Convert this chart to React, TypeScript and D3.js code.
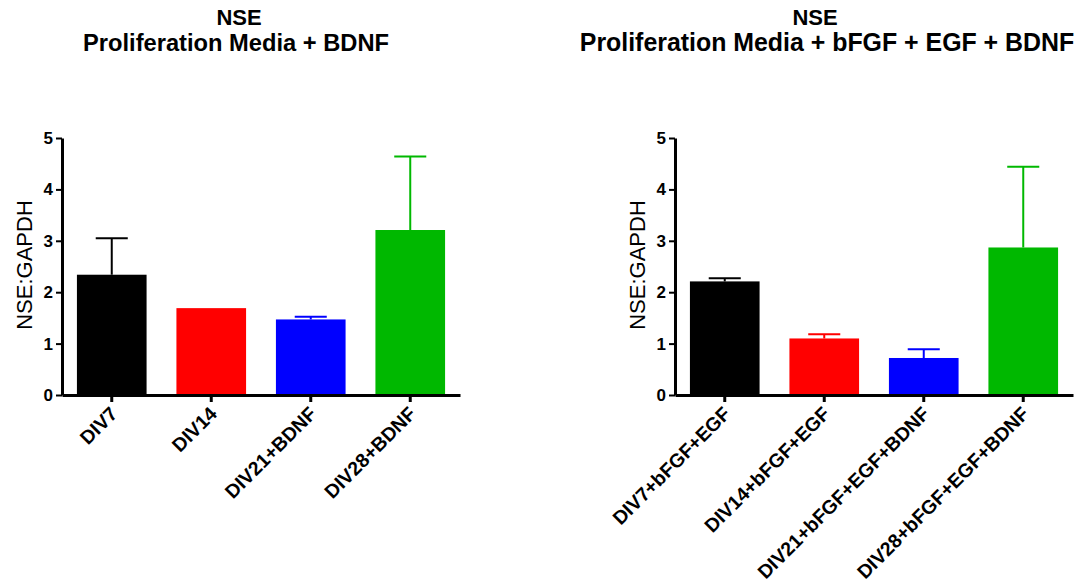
import React, { useRef, useEffect } from 'react';
import * as d3 from 'd3';

const leftCategories = ['DIV7', 'DIV14', 'DIV21+BDNF', 'DIV28+BDNF'];
const leftMeans = [2.34, 1.69, 1.47, 3.21];
const leftErrors = [0.71, 0.0, 0.05, 1.43];

const rightCategories = ['DIV7+bFGF+EGF', 'DIV14+bFGF+EGF', 'DIV21+bFGF+EGF+BDNF', 'DIV28+bFGF+EGF+BDNF'];
const rightMeans = [2.21, 1.1, 0.72, 2.87];
const rightErrors = [0.06, 0.08, 0.17, 1.57];

const barColors = ['#000000', '#ff0000', '#0000ff', '#00b800'];
const yTicks = [0, 1, 2, 3, 4, 5];

const panels = [
  { title: ['NSE', 'Proliferation Media + BDNF'], cats: leftCategories, means: leftMeans, errs: leftErrors, x0: 62, titleX: [239, 236], titleSize: 23.7 },
  { title: ['NSE', 'Proliferation Media + bFGF + EGF + BDNF'], cats: rightCategories, means: rightMeans, errs: rightErrors, x0: 675, titleX: [815, 827], titleSize: 24.9 },
];

const App: React.FC = () => {
  const chartRef = useRef<SVGSVGElement>(null);

  useEffect(() => {
    const svg = d3.select(chartRef.current);
    svg.selectAll('*').remove();

    const font = 'Arial, "Liberation Sans", sans-serif';

    panels.forEach(p => {
      const g = svg.append('g');

      const x = d3.scaleBand<string>()
        .domain(p.cats)
        .range([p.x0, p.x0 + 398])
        .paddingInner(0.3)
        .paddingOuter(0.15);

      const y = d3.scaleLinear()
        .domain([0, 5])
        .range([395, 138]);

      // title
      g.append('text')
        .attr('x', p.titleX[0]).attr('y', 25)
        .attr('text-anchor', 'middle')
        .style('font', `bold 22px ${font}`)
        .text(p.title[0]);
      g.append('text')
        .attr('x', p.titleX[1]).attr('y', 51)
        .attr('text-anchor', 'middle')
        .style('font', `bold ${p.titleSize}px ${font}`)
        .text(p.title[1]);

      // bars
      g.selectAll('.bar')
        .data(p.means)
        .enter().append('rect')
        .attr('x', (d, i) => x(p.cats[i])!)
        .attr('y', d => y(d))
        .attr('width', x.bandwidth())
        .attr('height', d => y(0) - y(d))
        .attr('fill', (d, i) => barColors[i]);

      // error bars (upper only)
      const capHalf = x.bandwidth() * 0.23;
      p.means.forEach((m, i) => {
        if (p.errs[i] <= 0) return;
        const cx = x(p.cats[i])! + x.bandwidth() / 2;
        g.append('line')
          .attr('x1', cx).attr('x2', cx)
          .attr('y1', y(m)).attr('y2', y(m + p.errs[i]))
          .attr('stroke', barColors[i]).attr('stroke-width', 2);
        g.append('line')
          .attr('x1', cx - capHalf).attr('x2', cx + capHalf)
          .attr('y1', y(m + p.errs[i])).attr('y2', y(m + p.errs[i]))
          .attr('stroke', barColors[i]).attr('stroke-width', 2);
      });

      // y axis
      const yAxis = g.append('g')
        .attr('transform', `translate(${p.x0},0)`)
        .call(d3.axisLeft(y).tickValues(yTicks).tickFormat(d3.format('d')).tickSize(6).tickSizeOuter(0));
      yAxis.select('.domain').attr('stroke-width', 3);
      yAxis.selectAll('.tick line').attr('stroke-width', 2);
      yAxis.selectAll('.tick text')
        .attr('x', -9)
        .style('font', `bold 17px ${font}`)
        .attr('fill', '#000');

      // x axis
      const xAxis = g.append('g')
        .attr('transform', `translate(0,${y(0)})`)
        .call(d3.axisBottom(x).tickSize(7).tickSizeOuter(0));
      xAxis.select('.domain').attr('stroke-width', 3);
      xAxis.selectAll('.tick line').attr('stroke-width', 3);
      xAxis.selectAll('.tick text')
        .attr('text-anchor', 'end')
        .attr('transform', 'translate(7,20) rotate(-45)')
        .attr('y', 0).attr('dy', 0)
        .style('font', `bold 19.5px ${font}`)
        .attr('fill', '#000');

      // y label
      g.append('text')
        .attr('transform', `translate(${p.x0 - 30},265) rotate(-90)`)
        .attr('text-anchor', 'middle')
        .style('font', `22px ${font}`)
        .text('NSE:GAPDH');
    });
  }, []);

  return (
    <svg ref={chartRef} width={1089} height={588}
      style={{ position: 'absolute', left: 0, top: 0, background: '#fff' }} />
  );
};

export default App;
